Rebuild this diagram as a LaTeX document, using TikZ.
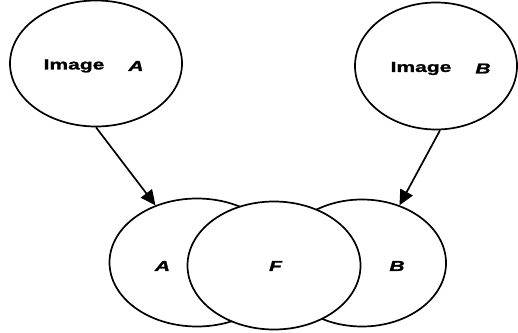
\documentclass[tikz,border=0pt]{standalone}
\usepackage{fontspec}
\usepackage{graphicx}
\setmainfont{Liberation Sans}[BoldFeatures={FakeBold=1.2},BoldItalicFeatures={FakeBold=1.2}]
\usetikzlibrary{shapes.geometric,arrows.meta}

\tikzset{
  blob/.style={ellipse, draw=black, line width=1.7pt, fill=white, inner sep=0pt},
  txt/.style={inner sep=0pt, font=\fontsize{14.5}{14.5}\selectfont\bfseries},
  conn/.style={line width=1.7pt, -{Triangle[length=15pt,width=14pt]}}
}
\newcommand{\wide}[1]{\scalebox{1.45}[1]{#1}}

\begin{document}
\begin{tikzpicture}[x=1pt,y=1pt]
  \useasboundingbox (0,0) rectangle (518,332);

  % source images
  \node[blob, minimum width=172pt, minimum height=126pt] (imgA) at (96,268.5) {};
  \node[blob, minimum width=162pt, minimum height=127pt] (imgB) at (436,266) {};
  \node[txt] (tImgA) at (74,266) {\wide{Image}};
  \node[txt] (tA) at (136,266) {\wide{\itshape A}};
  \node[txt] (tImgB) at (421,263.5) {\wide{Image}};
  \node[txt] (tB) at (483,263.5) {\wide{\itshape B}};

  % overlapping regions, F drawn last so it covers the others
  \node[blob, minimum width=175pt, minimum height=128pt] (botA) at (197,69.5) {};
  \node[blob, minimum width=168pt, minimum height=127pt] (botB) at (362,69) {};
  \node[blob, minimum width=173pt, minimum height=128pt] (botF) at (274,66.5) {};
  \node[txt] (lA) at (162.5,66) {\wide{\itshape A}};
  \node[txt] (lF) at (275.5,66) {\wide{\itshape F}};
  \node[txt] (lB) at (397,66) {\wide{\itshape B}};

  % connectors
  \draw[conn] (imgA.south) -- (botA.126);
  \draw[conn] ([xshift=4pt]imgB.south) -- (botB.57);
\end{tikzpicture}
\end{document}
